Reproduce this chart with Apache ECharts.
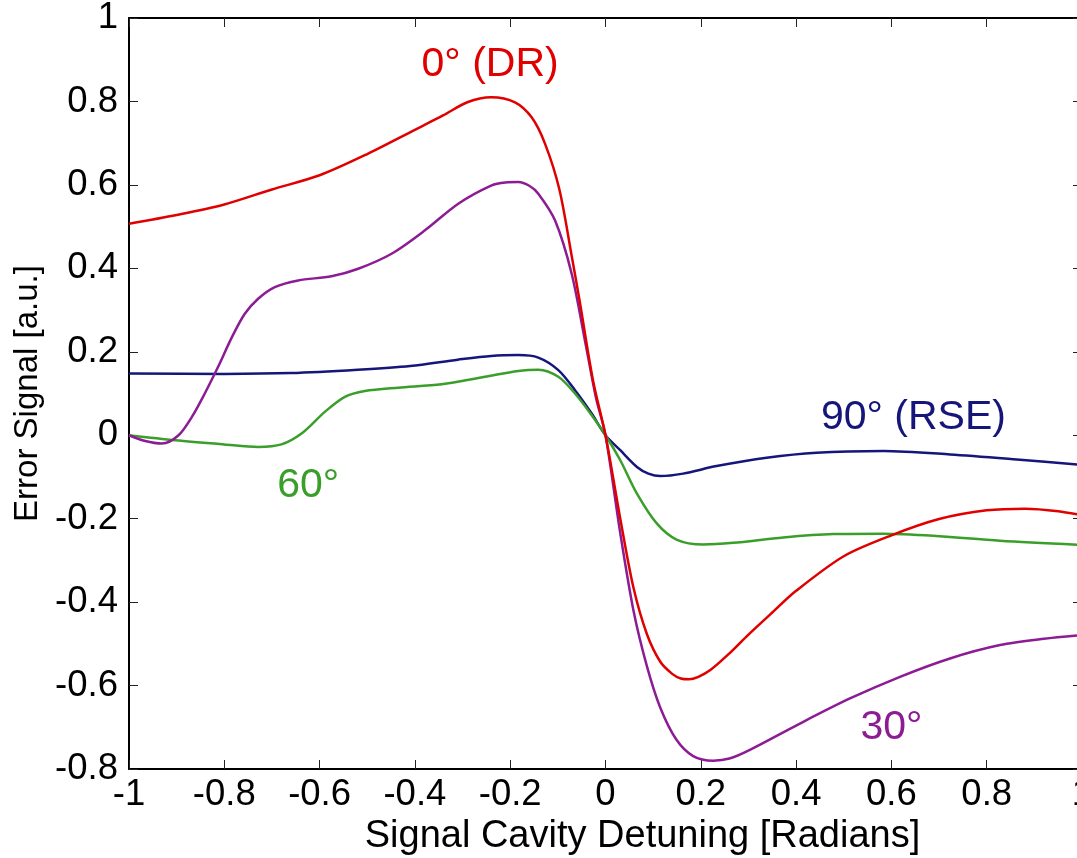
<!DOCTYPE html>
<html>
<head>
<meta charset="utf-8">
<script src="https://cdn.jsdelivr.net/npm/echarts@6/dist/echarts.min.js"></script>
<style>
html,body{margin:0;padding:0;background:#fff;}
#chart{width:1077px;height:858px;}
</style>
</head>
<body>
<div id="chart"></div>
<script>
// ---- data ----
const xTicks = [-1, -0.8, -0.6, -0.4, -0.2, 0, 0.2, 0.4, 0.6, 0.8, 1];
const yTicks = [-0.8, -0.6, -0.4, -0.2, 0, 0.2, 0.4, 0.6, 0.8, 1];

const redX = [-1, -0.9, -0.8, -0.7, -0.6, -0.5, -0.4, -0.34, -0.29, -0.24, -0.19, -0.155, -0.127, -0.097, -0.071, -0.054, -0.026, 0, 0.031, 0.059, 0.087, 0.115, 0.14, 0.158, 0.175, 0.195, 0.22, 0.26, 0.3, 0.35, 0.4, 0.5, 0.6, 0.7, 0.8, 0.88, 0.95, 1];
const redY = [0.507, 0.528, 0.553, 0.589, 0.623, 0.674, 0.732, 0.767, 0.798, 0.810, 0.798, 0.762, 0.699, 0.59, 0.43, 0.32, 0.13, 0, -0.20, -0.367, -0.477, -0.543, -0.572, -0.583, -0.585, -0.579, -0.563, -0.523, -0.478, -0.425, -0.373, -0.29, -0.24, -0.201, -0.180, -0.176, -0.182, -0.192];

const purpleX = [-1, -0.966, -0.931, -0.896, -0.868, -0.841, -0.813, -0.784, -0.757, -0.729, -0.694, -0.645, -0.575, -0.519, -0.449, -0.379, -0.309, -0.239, -0.21, -0.183, -0.16, -0.141, -0.106, -0.071, -0.042, -0.02, 0, 0.031, 0.059, 0.087, 0.115, 0.149, 0.184, 0.226, 0.26, 0.303, 0.408, 0.513, 0.618, 0.723, 0.828, 0.92, 1];
const purpleY = [0, -0.014, -0.020, 0.0, 0.044, 0.100, 0.164, 0.235, 0.291, 0.327, 0.355, 0.371, 0.381, 0.399, 0.435, 0.491, 0.555, 0.599, 0.606, 0.607, 0.598, 0.579, 0.515, 0.387, 0.22, 0.09, 0, -0.235, -0.422, -0.554, -0.653, -0.730, -0.769, -0.780, -0.775, -0.754, -0.691, -0.631, -0.579, -0.535, -0.503, -0.488, -0.479];

const navyX = [-1, -0.8, -0.66, -0.52, -0.41, -0.31, -0.24, -0.183, -0.141, -0.099, -0.064, -0.029, 0, 0.031, 0.066, 0.09, 0.115, 0.163, 0.233, 0.338, 0.443, 0.583, 0.723, 0.863, 1];
const navyY = [0.148, 0.147, 0.149, 0.157, 0.166, 0.181, 0.190, 0.192, 0.186, 0.156, 0.108, 0.052, 0, -0.036, -0.076, -0.092, -0.098, -0.092, -0.074, -0.054, -0.042, -0.038, -0.046, -0.058, -0.071];

const greenX = [-1, -0.903, -0.8, -0.729, -0.68, -0.638, -0.589, -0.547, -0.505, -0.435, -0.344, -0.253, -0.183, -0.141, -0.099, -0.064, -0.029, 0, 0.031, 0.066, 0.108, 0.149, 0.205, 0.268, 0.373, 0.478, 0.583, 0.688, 0.828, 1];
const greenY = [0, -0.012, -0.022, -0.028, -0.022, 0.004, 0.056, 0.092, 0.106, 0.114, 0.122, 0.140, 0.154, 0.157, 0.140, 0.100, 0.048, 0, -0.060, -0.140, -0.212, -0.250, -0.262, -0.258, -0.245, -0.237, -0.236, -0.241, -0.253, -0.263];

const seriesNames = ['0° (DR)', '30°', '60°', '90° (RSE)'];
const labelTexts = ['0° (DR)', '30°', '60°', '90° (RSE)'];
const labelX = [-0.386, 0.535, -0.689, 0.452];
const labelY = [0.889, -0.702, -0.12, 0.043];

const xTitle = 'Signal Cavity Detuning [Radians]';
const yTitle = 'Error Signal [a.u.]';

// ---- styles ----
const colors = ['#e00000', '#8c1c94', '#3a9e2a', '#16167a'];
const FONT = "'Liberation Sans', Arial, Helvetica, sans-serif";

function pairs(xs, ys) { return xs.map((x, i) => [x, ys[i]]); }
const seriesData = [pairs(redX, redY), pairs(purpleX, purpleY), pairs(greenX, greenY), pairs(navyX, navyY)];

const chart = echarts.init(document.getElementById('chart'), null, {renderer: 'canvas'});

const axisCommon = {
  type: 'value',
  interval: 0.2,
  axisLine: {show: true, onZero: false, lineStyle: {color: '#000', width: 2}},
  axisTick: {show: true, inside: true, length: 9, lineStyle: {color: '#222', width: 1}},
  splitLine: {show: false}
};

const option = {
  backgroundColor: '#fff',
  animation: false,
  grid: {left: 129, top: 18, right: -5, bottom: 89, containLabel: false, outerBoundsMode: 'none'},
  xAxis: [
    Object.assign({}, axisCommon, {
      min: -1, max: 1, position: 'bottom',
      axisLabel: {show: true, color: '#000', fontSize: 36.5, fontFamily: FONT, margin: 7,
        formatter: v => String(xTicks.find(t => Math.abs(t - v) < 1e-6) ?? v)},
      name: xTitle, nameLocation: 'middle', nameGap: 43,
      nameTextStyle: {color: '#000', fontSize: 38, fontFamily: FONT, padding: [0, 0, 0, 74]}
    }),
    Object.assign({}, axisCommon, {min: -1, max: 1, position: 'top', axisLabel: {show: false}})
  ],
  yAxis: [
    Object.assign({}, axisCommon, {
      min: -0.8, max: 1, position: 'left',
      axisLabel: {show: true, color: '#000', fontSize: 36.5, fontFamily: FONT, margin: 11,
        formatter: v => String(yTicks.find(t => Math.abs(t - v) < 1e-6) ?? v)},
      name: yTitle, nameLocation: 'middle', nameGap: 82,
      nameTextStyle: {color: '#000', fontSize: 33, fontFamily: FONT}
    }),
    Object.assign({}, axisCommon, {min: -0.8, max: 1, position: 'right', axisLabel: {show: false}})
  ],
  series: seriesData.map((d, i) => ({
    name: seriesNames[i],
    type: 'line',
    data: d,
    smooth: 0.3,
    showSymbol: false,
    symbol: 'none',
    clip: true,
    lineStyle: {color: colors[i], width: 2.5},
    itemStyle: {color: colors[i]},
    z: 10 - i
  }))
};
chart.setOption(option);

const graphics = labelTexts.map((t, i) => {
  const p = chart.convertToPixel({xAxisIndex: 0, yAxisIndex: 0}, [labelX[i], labelY[i]]);
  return {
    type: 'text', x: p[0], y: p[1], z: 100,
    style: {text: t, fill: colors[i], font: '41px ' + FONT, textAlign: 'left', textVerticalAlign: 'middle'}
  };
});
chart.setOption({graphic: graphics});
</script>
</body>
</html>
